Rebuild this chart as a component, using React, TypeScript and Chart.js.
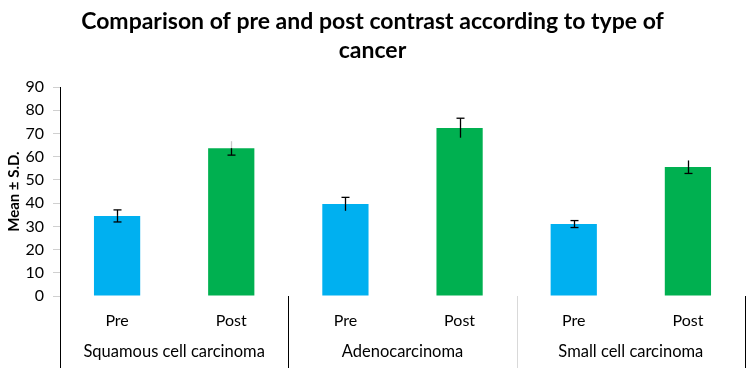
import React, { useEffect, useRef } from 'react';
import { Chart, registerables } from 'chart.js';

Chart.register(...registerables);

// ---- data ----
const categories = ['Pre', 'Post', 'Pre', 'Post', 'Pre', 'Post'];
const groups = ['Squamous cell carcinoma', 'Adenocarcinoma', 'Small cell carcinoma'];
const means = [34.5, 63.7, 39.6, 72.4, 31.0, 55.6];
const sds = [2.6, 3.0, 2.9, 4.2, 1.5, 2.8];
const yTicks = [0, 10, 20, 30, 40, 50, 60, 70, 80, 90];
const titleLines = ['Comparison of pre and post contrast according to type of', 'cancer'];
const yTitle = 'Mean ± S.D.';

// ---- styles ----
const PRE = '#00B0F0';
const POST = '#00B050';
const barColors = categories.map((c) => (c === 'Pre' ? PRE : POST));
const capTop = [true, false, true, true, true, false];
const capBottom = [true, true, false, false, true, true];
const upperStemColor = ['#000', '#c8c8c8', '#000', '#000', '#000', '#000'];
const separatorColors = ['#000', '#000', '#d9d9d9', '#000'];
const FONT = 'Lato, "Open Sans", sans-serif';

const errorBarPlugin = {
  id: 'errorBars',
  afterDatasetsDraw(chart: any) {
    const meta = chart.getDatasetMeta(0);
    const y = chart.scales.y;
    const ctx = chart.ctx;
    ctx.save();
    ctx.lineWidth = 1.3;
    meta.data.forEach((el: any, i: number) => {
      const x = Math.round(el.x) + 0.5;
      const yTop = y.getPixelForValue(means[i] + sds[i]);
      const yMid = y.getPixelForValue(means[i]);
      const yBot = y.getPixelForValue(means[i] - sds[i]);
      const cw = 4;
      ctx.strokeStyle = upperStemColor[i];
      ctx.beginPath();
      ctx.moveTo(x, yTop);
      ctx.lineTo(x, yMid);
      ctx.stroke();
      ctx.strokeStyle = '#000';
      ctx.beginPath();
      ctx.moveTo(x, yMid);
      ctx.lineTo(x, yBot);
      ctx.stroke();
      if (capTop[i]) {
        ctx.beginPath();
        ctx.moveTo(x - cw, yTop);
        ctx.lineTo(x + cw, yTop);
        ctx.stroke();
      }
      if (capBottom[i]) {
        ctx.beginPath();
        ctx.moveTo(x - cw, yBot);
        ctx.lineTo(x + cw, yBot);
        ctx.stroke();
      }
    });
    ctx.restore();
  },
};

const groupAxisPlugin = {
  id: 'groupAxis',
  afterDraw(chart: any) {
    const xs = chart.scales.x;
    const ca = chart.chartArea;
    const ctx = chart.ctx;
    const H = chart.height;
    const bounds: number[] = [ca.left];
    for (let g = 1; g < groups.length; g++) {
      bounds.push((xs.getPixelForTick(g * 2 - 1) + xs.getPixelForTick(g * 2)) / 2);
    }
    bounds.push(ca.right);
    ctx.save();
    ctx.lineWidth = 1;
    bounds.forEach((b, i) => {
      const bx = Math.round(b) + 0.5;
      ctx.strokeStyle = separatorColors[i];
      ctx.beginPath();
      ctx.moveTo(bx, ca.bottom);
      ctx.lineTo(bx, H);
      ctx.stroke();
    });
    ctx.fillStyle = '#000';
    ctx.font = `16.5px ${FONT}`;
    ctx.textAlign = 'center';
    ctx.textBaseline = 'middle';
    groups.forEach((g, i) => {
      ctx.fillText(g, (bounds[i] + bounds[i + 1]) / 2, 352);
    });
    ctx.restore();
  },
};

export default function App() {
  const ref = useRef<HTMLCanvasElement>(null);
  useEffect(() => {
    document.body.style.margin = '0';
    const chart = new Chart(ref.current as HTMLCanvasElement, {
      type: 'bar',
      data: {
        labels: categories,
        datasets: [
          {
            data: means,
            backgroundColor: barColors,
            borderWidth: 0,
            barPercentage: 0.405,
            categoryPercentage: 1,
          },
        ],
      },
      options: {
        animation: false,
        responsive: false,
        maintainAspectRatio: false,
        layout: { padding: { left: 0, right: 5, top: 0, bottom: 0 } },
        plugins: {
          legend: { display: false },
          tooltip: { enabled: false },
          title: {
            display: true,
            text: titleLines,
            color: '#000',
            font: { family: FONT, size: 23, weight: 'bold', lineHeight: 1.22 },
            padding: { top: 8, bottom: 23 },
          },
        },
        scales: {
          x: {
            grid: { display: false, drawTicks: false },
            border: { display: false },
            ticks: { color: '#000', font: { family: FONT, size: 16 }, padding: 15 },
            afterFit(scale: any) {
              scale.height = 72;
            },
          },
          y: {
            min: 0,
            max: 90,
            afterBuildTicks(scale: any) {
              scale.ticks = yTicks.map((v) => ({ value: v }));
            },
            grid: { drawOnChartArea: false, drawTicks: true, tickLength: 7, color: '#d0d0d0' },
            border: { display: true, color: '#000', width: 1 },
            ticks: { color: '#000', font: { family: FONT, size: 16 }, padding: 9 },
            title: {
              display: true,
              text: yTitle,
              color: '#000',
              font: { family: FONT, size: 15, weight: 'bold' },
              padding: { top: 5, bottom: 0 },
            },
            afterFit(scale: any) {
              scale.width = 60;
            },
          },
        },
      },
      plugins: [errorBarPlugin, groupAxisPlugin],
    });
    return () => chart.destroy();
  }, []);
  return <canvas ref={ref} width={750} height={368} style={{ display: 'block' }} />;
}
